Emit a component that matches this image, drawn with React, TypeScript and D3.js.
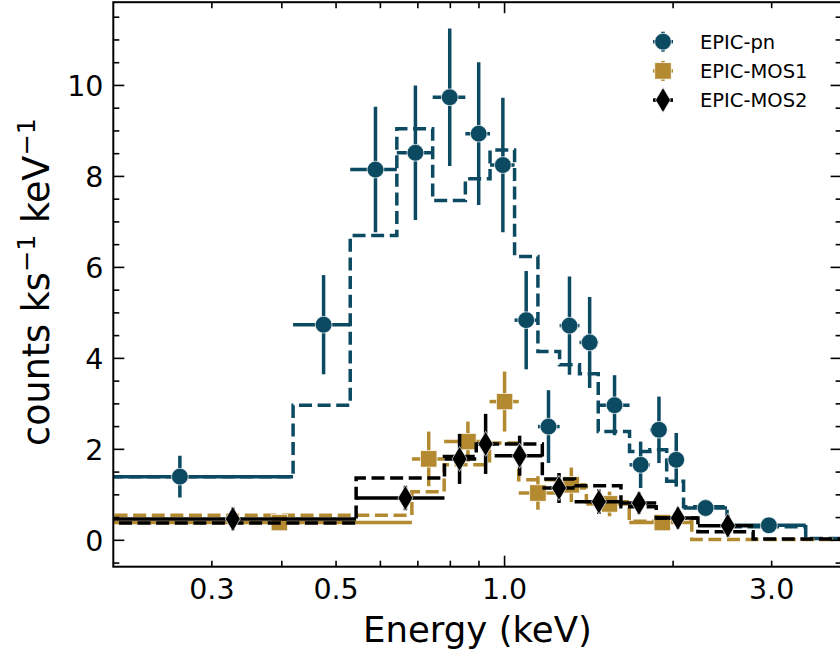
import React from "react";
import * as d3 from "d3";

// ---- EPIC-pn ----
const pnEnergy = [0.263, 0.475, 0.588, 0.693, 0.798, 0.899, 0.993, 1.093, 1.198, 1.306, 1.419, 1.572, 1.750, 1.887, 2.026, 2.286, 2.966];
const pnEdges = [0.107, 0.419, 0.530, 0.642, 0.744, 0.851, 0.942, 1.042, 1.147, 1.254, 1.361, 1.470, 1.672, 1.818, 1.948, 2.088, 2.497, 3.451];
const pnValues = [1.40, 4.74, 8.15, 8.52, 9.74, 8.94, 8.25, 4.84, 2.50, 4.72, 4.35, 2.97, 1.66, 2.43, 1.77, 0.71, 0.33];
const pnErrors = [0.46, 1.09, 1.38, 1.48, 1.51, 1.57, 1.48, 1.08, 0.80, 1.08, 1.00, 0.66, 0.51, 0.73, 0.59, 0.18, 0.10];
const pnModel = [1.40, 2.97, 6.70, 9.05, 7.47, 7.95, 8.58, 6.24, 4.15, 3.86, 3.66, 2.39, 1.95, 1.99, 1.30, 0.74, 0.30, 0.04];

// ---- EPIC-MOS1 ----
const mos1Energy = [0.396, 0.732, 0.860, 1.000, 1.147, 1.316, 1.540, 1.913];
const mos1Edges = [0.109, 0.683, 0.780, 0.940, 1.060, 1.235, 1.400, 1.670, 2.160];
const mos1Values = [0.39, 1.79, 2.17, 3.05, 1.04, 1.22, 0.80, 0.39];
const mos1Errors = [0.10, 0.60, 0.44, 0.66, 0.37, 0.38, 0.27, 0.13];
const mos1Model = [0.55, 1.07, 1.66, 2.14, 1.33, 1.15, 0.85, 0.42, 0.02];

// ---- EPIC-MOS2 ----
const mos2Energy = [0.327, 0.665, 0.831, 0.925, 1.064, 1.251, 1.474, 1.738, 2.040, 2.505];
const mos2Edges = [0.111, 0.543, 0.781, 0.890, 0.960, 1.168, 1.334, 1.614, 1.866, 2.215, 2.780];
const mos2Values = [0.47, 0.93, 1.79, 2.12, 1.86, 1.15, 0.85, 0.82, 0.49, 0.32];
const mos2Errors = [0.25, 0.27, 0.55, 0.66, 0.44, 0.33, 0.27, 0.24, 0.23, 0.24];
const mos2Model = [0.38, 1.37, 1.84, 2.12, 2.12, 1.35, 1.20, 0.74, 0.49, 0.19, 0.03];

// ---- axes ----
const xDomain = [0.2, 4.0];
const yDomain = [-0.58, 11.83];
const xMajorTicks = [1];
const xMinorTicks = [0.2, 0.3, 0.4, 0.5, 0.6, 0.7, 0.8, 0.9, 2, 3, 4];
const xTickLabelValues = [0.3, 0.5, 1.0, 3.0];
const xTickLabels = ["0.3", "0.5", "1.0", "3.0"];
const yMajorTicks = [0, 2, 4, 6, 8, 10];
const yTickLabels = ["0", "2", "4", "6", "8", "10"];
const legendLabels = ["EPIC-pn", "EPIC-MOS1", "EPIC-MOS2"];

const TEAL = "#0c4a62";
const GOLD = "#b48a31";
const BLACK = "#000000";
const FONT = "'DejaVu Sans', sans-serif";

type Series = {
  name: string;
  color: string;
  marker: "circle" | "square" | "diamond";
  energy: number[];
  edges: number[];
  values: number[];
  errors: number[];
  model: number[];
};

const series: Series[] = [
  { name: legendLabels[0], color: TEAL, marker: "circle", energy: pnEnergy, edges: pnEdges, values: pnValues, errors: pnErrors, model: pnModel },
  { name: legendLabels[1], color: GOLD, marker: "square", energy: mos1Energy, edges: mos1Edges, values: mos1Values, errors: mos1Errors, model: mos1Model },
  { name: legendLabels[2], color: BLACK, marker: "diamond", energy: mos2Energy, edges: mos2Edges, values: mos2Values, errors: mos2Errors, model: mos2Model },
];

function Marker({ kind, cx, cy, color }: { kind: string; cx: number; cy: number; color: string }) {
  if (kind === "circle") return <circle cx={cx} cy={cy} r={8.4} fill={color} stroke="#fff" strokeWidth={0.7} />;
  if (kind === "square") return <rect x={cx - 8.2} y={cy - 8.2} width={16.4} height={16.4} fill={color} stroke="#fff" strokeWidth={0.7} />;
  return <path d={`M${cx},${cy - 12.5}L${cx + 7.5},${cy}L${cx},${cy + 12.5}L${cx - 7.5},${cy}Z`} fill={color} stroke="#fff" strokeWidth={0.7} />;
}

export default function App() {
  const W = 840, H = 655;
  const left = 113.3, right = 841.6, top = 2.2, bottom = 566.7;
  const x = d3.scaleLog().domain(xDomain).range([left, right]);
  const y = d3.scaleLinear().domain(yDomain).range([bottom, top]);

  const stepLine = d3.line<[number, number]>().x(d => x(d[0])).y(d => y(d[1])).curve(d3.curveStepAfter);

  const modelPath = (s: Series) => {
    const edges = [...s.edges, 6];
    const pts: [number, number][] = edges.map((e, i) => [e, s.model[Math.min(i, s.model.length - 1)]]);
    return stepLine(pts) || "";
  };

  const yMinor = d3.range(-0.5, 12, 0.5).filter(v => !yMajorTicks.includes(v) && v > yDomain[0] && v < yDomain[1]);

  const lw = 3.5;
  const majLen = 11, minLen = 6;

  return (
    <svg width={W} height={H} style={{ position: "absolute", left: 0, top: 0, background: "#fff" }} fontFamily={FONT}>
      <defs>
        <clipPath id="plotclip">
          <rect x={left} y={top} width={right - left} height={bottom - top} />
        </clipPath>
      </defs>
      <rect x={0} y={0} width={W} height={H} fill="#fff" />
      <g clipPath="url(#plotclip)">
        {series.map(s => (
          <g key={s.name}>
            <path d={modelPath(s)} fill="none" stroke={s.color} strokeWidth={lw} strokeDasharray="13,5.6" />
            {s.energy.map((e, i) => (
              <g key={i}>
                <line x1={x(s.edges[i])} x2={x(s.edges[i + 1])} y1={y(s.values[i])} y2={y(s.values[i])} stroke={s.color} strokeWidth={lw} />
                <line x1={x(e)} x2={x(e)} y1={y(s.values[i] - s.errors[i])} y2={y(s.values[i] + s.errors[i])} stroke={s.color} strokeWidth={lw} />
              </g>
            ))}
            {s.energy.map((e, i) => (
              <Marker key={"m" + i} kind={s.marker} cx={x(e)} cy={y(s.values[i])} color={s.color} />
            ))}
          </g>
        ))}
      </g>

      {/* ticks */}
      <g stroke="#000" strokeWidth={1.6}>
        {xMajorTicks.map(t => (
          <g key={"xM" + t}>
            <line x1={x(t)} x2={x(t)} y1={bottom} y2={bottom - majLen} />
            <line x1={x(t)} x2={x(t)} y1={top} y2={top + majLen} />
          </g>
        ))}
        {xMinorTicks.filter(t => x(t) > left + 1 && x(t) < right - 1).map(t => (
          <g key={"xm" + t}>
            <line x1={x(t)} x2={x(t)} y1={bottom} y2={bottom - minLen} />
            <line x1={x(t)} x2={x(t)} y1={top} y2={top + minLen} />
          </g>
        ))}
        {yMajorTicks.map(t => (
          <g key={"yM" + t}>
            <line x1={left} x2={left + majLen} y1={y(t)} y2={y(t)} />
            <line x1={right} x2={right - majLen} y1={y(t)} y2={y(t)} />
          </g>
        ))}
        {yMinor.map(t => (
          <g key={"ym" + t}>
            <line x1={left} x2={left + minLen} y1={y(t)} y2={y(t)} />
            <line x1={right} x2={right - minLen} y1={y(t)} y2={y(t)} />
          </g>
        ))}
      </g>

      {/* spines */}
      <rect x={left} y={top} width={right - left} height={bottom - top} fill="none" stroke="#000" strokeWidth={2} />

      {/* tick labels */}
      {xTickLabelValues.map((t, i) => (
        <text key={"xl" + t} x={x(t)} y={599} fontSize={28.5} textAnchor="middle" fill="#000">{xTickLabels[i]}</text>
      ))}
      {yMajorTicks.map((t, i) => (
        <text key={"yl" + t} x={103.5} y={y(t) + 10.4} fontSize={28.5} textAnchor="end" fill="#000">{yTickLabels[i]}</text>
      ))}

      {/* axis labels */}
      <text x={(left + right) / 2} y={641.5} fontSize={35.5} textAnchor="middle" fill="#000">Energy (keV)</text>
      <text transform={`translate(49,282) rotate(-90)`} fontSize={36.5} textAnchor="middle" fill="#000">
        counts ks<tspan fontSize={25.5} dy={-14.5}>−1</tspan><tspan dy={14.5}> keV</tspan><tspan fontSize={25.5} dy={-14.5}>−1</tspan>
      </text>

      {/* legend */}
      {series.map((s, i) => {
        const cy = 41.7 + i * 29.2;
        const cx = 663;
        return (
          <g key={"lg" + i}>
            <line x1={cx - 10} x2={cx + 10} y1={cy} y2={cy} stroke={s.color} strokeWidth={lw} />
            <line x1={cx} x2={cx} y1={cy - 10} y2={cy + 10} stroke={s.color} strokeWidth={lw} />
            <Marker kind={s.marker} cx={cx} cy={cy} color={s.color} />
            <text x={700} y={cy + 7} fontSize={19.5} fill="#000">{s.name}</text>
          </g>
        );
      })}
    </svg>
  );
}
